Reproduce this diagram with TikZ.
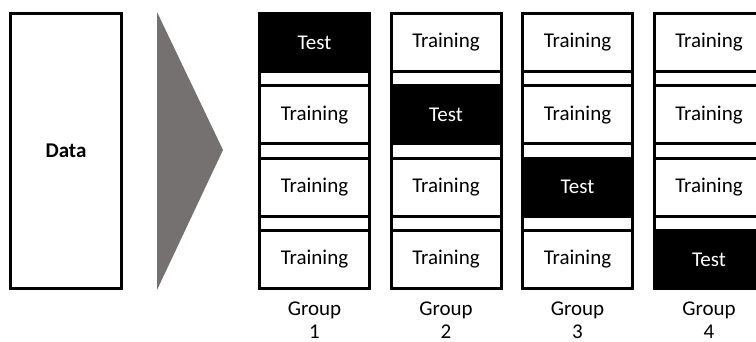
\documentclass[tikz,border=0pt]{standalone}
\usepackage{fontspec}
\setmainfont{Carlito}
\definecolor{arrowgray}{HTML}{767171}
\begin{document}
\begin{tikzpicture}[x=1pt,y=-1pt,
  cellbox/.style={draw=black, line width=3pt, minimum width=110pt, minimum height=58pt, inner sep=0pt, font=\fontsize{21}{25}\selectfont},
  trainbox/.style={cellbox, fill=white, text=black},
  testbox/.style={cellbox, fill=black, text=white},
  colframe/.style={draw=black, line width=3pt},
  grouplbl/.style={font=\fontsize{21}{25}\selectfont, anchor=base, inner sep=0pt},
  tri/.style={fill=arrowgray}]
\useasboundingbox[fill=white] (0,0) rectangle (756,342);
\node[draw=black, line width=3pt, minimum width=111pt, minimum height=275pt, inner sep=0pt, font=\fontsize{21}{25}\selectfont\bfseries] (data) at (66,151) {Data};
\fill[tri] (157,12) -- (223,150) -- (157,290) -- cycle;
\foreach \i in {0,1,2,3} {
  \pgfmathsetmacro{\L}{258+131.5*\i}
  \pgfmathsetmacro{\cx}{\L+56.5}
  \pgfmathtruncatemacro{\g}{\i+1}
  \draw[colframe] (\L+1.5,13.5) rectangle (\L+111.5,288.5);
  \foreach \j in {0,1,2,3} {
    \pgfmathsetmacro{\cy}{42.5+72.33*\j}
    \ifnum\i=\j
      \node[testbox] (c\i\j) at (\cx,\cy) {Test};
    \else
      \node[trainbox] (c\i\j) at (\cx,\cy) {Training};
    \fi
  }
  \node[grouplbl] (ga\i) at (\cx,316) {Group};
  \node[grouplbl] (gb\i) at (\cx,338) {\g};
}
\end{tikzpicture}
\end{document}
